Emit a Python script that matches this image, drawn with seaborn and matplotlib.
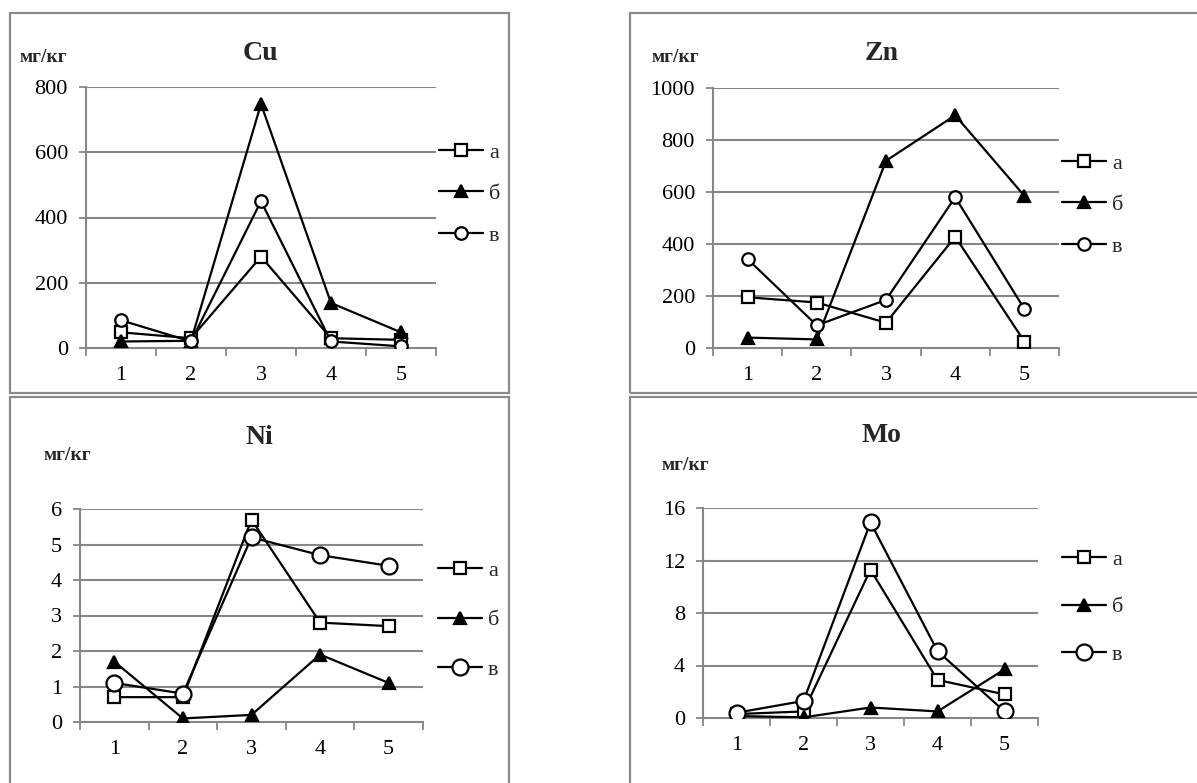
import numpy as np
import pandas as pd
import matplotlib
matplotlib.use("Agg")
import matplotlib.pyplot as plt
import seaborn as sns
from matplotlib.patches import Rectangle
from matplotlib.ticker import FixedLocator

# ---------------- data ----------------
categories = [1, 2, 3, 4, 5]
series_names = ["а", "б", "в"]

cu_a = [48, 30, 280, 30, 25]
cu_b = [20, 22, 748, 138, 48]
cu_v = [85, 20, 450, 20, 5]

zn_a = [195, 175, 97, 428, 25]
zn_b = [40, 33, 720, 895, 585]
zn_v = [342, 87, 185, 580, 150]

ni_a = [0.7, 0.7, 5.7, 2.8, 2.7]
ni_b = [1.7, 0.1, 0.2, 1.9, 1.1]
ni_v = [1.1, 0.8, 5.2, 4.7, 4.4]

mo_a = [0.3, 0.5, 11.3, 2.9, 1.8]
mo_b = [0.15, 0.05, 0.8, 0.5, 3.7]
mo_v = [0.4, 1.3, 14.9, 5.1, 0.5]

cu_ticks = [0, 200, 400, 600, 800]
zn_ticks = [0, 200, 400, 600, 800, 1000]
ni_ticks = [0, 1, 2, 3, 4, 5, 6]
mo_ticks = [0, 4, 8, 12, 16]

titles = ["Cu", "Zn", "Ni", "Mo"]
unit_label = "мг/кг"

# ---------------- style ----------------
sns.set_style("white")
plt.rcParams["font.family"] = ["Liberation Serif", "DejaVu Serif"]

W, H = 1197, 783
DPI = 100
fig = plt.figure(figsize=(W / DPI, H / DPI), dpi=DPI)
fig.patch.set_facecolor("white")

GRID = "#878787"


def fx(px):
    return px / W


def fy(py):
    return 1 - py / H


def add_axes_px(x0, ytop, x1, ybot):
    return fig.add_axes([fx(x0), fy(ybot), (x1 - x0) / W, (ybot - ytop) / H])


# panel borders
for (x0, y0, x1, y1) in [(10, 13, 509, 393), (630, 13, 1215, 393),
                         (10, 397, 509, 800), (630, 397, 1215, 800)]:
    fig.patches.append(Rectangle((fx(x0), fy(y1)), (x1 - x0) / W, (y1 - y0) / H,
                                 transform=fig.transFigure, fill=False,
                                 edgecolor="#8a8a8a", lw=1.6, zorder=0))

panels = [
    dict(data=(cu_a, cu_b, cu_v), ticks=cu_ticks, box=(86, 87, 436, 348),
         title=(260, 53), unit=(43, 57), leg=(439, 194), leg_sp=0.95, small=True),
    dict(data=(zn_a, zn_b, zn_v), ticks=zn_ticks, box=(713, 88, 1059, 348),
         title=(882, 53), unit=(675, 57), leg=(1062, 205), leg_sp=0.95, small=True),
    dict(data=(ni_a, ni_b, ni_v), ticks=ni_ticks, box=(80, 509, 423, 722),
         title=(259, 437), unit=(67, 455), leg=(438, 620), leg_sp=1.3, small=False),
    dict(data=(mo_a, mo_b, mo_v), ticks=mo_ticks, box=(703, 508, 1038, 718),
         title=(881, 435), unit=(685, 465), leg=(1062, 607), leg_sp=1.2, small=False),
]

TICK_FS = 16
for p, title in zip(panels, titles):
    x0, yt, x1, yb = p["box"]
    ax = add_axes_px(x0, yt, x1, yb)
    a, b, v = p["data"]
    df = pd.DataFrame({
        "cat": categories * 3,
        "val": list(a) + list(b) + list(v),
        "series": [series_names[0]] * 5 + [series_names[1]] * 5 + [series_names[2]] * 5,
    })
    circ_ms = 9.0 if p["small"] else 11.5
    sq_ms = 8.5 if p["small"] else 9.0
    tri_ms = 9.0 if p["small"] else 9.0
    styles = {
        series_names[0]: dict(marker="s", markerfacecolor="white", markersize=sq_ms),
        series_names[1]: dict(marker="^", markerfacecolor="black", markersize=tri_ms),
        series_names[2]: dict(marker="o", markerfacecolor="white", markersize=circ_ms),
    }
    for name in series_names:
        sub = df[df["series"] == name]
        sns.lineplot(data=sub, x="cat", y="val", ax=ax, color="black",
                     linewidth=1.6, markeredgecolor="black", markeredgewidth=1.6,
                     label=name, zorder=3, **styles[name])

    ymax = p["ticks"][-1]
    ax.set_xlim(0.5, 5.5)
    ax.set_ylim(0, ymax)
    ax.set_xlabel("")
    ax.set_ylabel("")
    ax.set_yticks(p["ticks"])
    ax.set_xticks(categories)
    ax.set_xticklabels([str(c) for c in categories])
    ax.xaxis.set_minor_locator(FixedLocator(np.arange(0.5, 6.0, 1.0)))
    ax.grid(False)
    for y in p["ticks"][1:]:
        ax.axhline(y, color=GRID, lw=1.5, zorder=1)
    for s in ["top", "right"]:
        ax.spines[s].set_visible(False)
    for s in ["left", "bottom"]:
        ax.spines[s].set_color(GRID)
        ax.spines[s].set_linewidth(1.5)
    ax.tick_params(axis="x", which="major", length=0, pad=13, labelsize=TICK_FS,
                   labelcolor="black")
    ax.tick_params(axis="x", which="minor", length=6, width=1.3, color=GRID,
                   direction="out", bottom=True)
    ax.tick_params(axis="y", which="major", length=5, width=1.3, color=GRID,
                   direction="out", pad=8, labelsize=TICK_FS, labelcolor="black",
                   left=True)
    ax.set_facecolor("none")

    handles, labels = ax.get_legend_handles_labels()
    lx, ly = p["leg"]
    ax.legend(handles, labels, loc="center left",
              bbox_to_anchor=((lx - x0) / (x1 - x0), (yb - ly) / (yb - yt)),
              frameon=False, fontsize=TICK_FS, handlelength=2.0,
              handletextpad=0.25, labelspacing=p["leg_sp"], borderpad=0,
              borderaxespad=0)

    tx, ty = p["title"]
    fig.text(fx(tx), fy(ty), title, ha="center", va="center",
             fontsize=20, fontweight="bold")
    ux, uy = p["unit"]
    fig.text(fx(ux), fy(uy), unit_label, ha="center", va="center",
             fontsize=14, fontweight="bold")

fig.savefig("out.png", dpi=DPI, facecolor="white")
